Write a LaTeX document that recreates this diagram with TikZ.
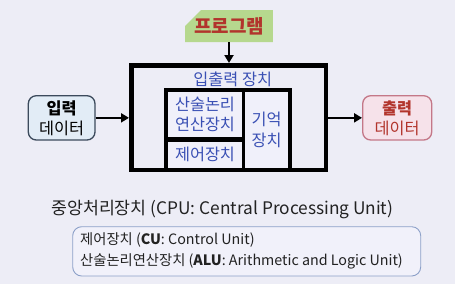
\documentclass[tikz,border=0pt]{standalone}
\usepackage{fontspec}
\setmainfont{Noto Sans CJK KR}
\usetikzlibrary{arrows.meta,positioning,shapes.misc}
\definecolor{cpubg}{RGB}{237,237,246}
\definecolor{cellfill}{RGB}{240,240,250}
\definecolor{unitblue}{RGB}{58,80,180}
\definecolor{progreen}{RGB}{182,216,142}
\definecolor{progred}{RGB}{178,52,44}
\definecolor{inpfill}{RGB}{226,236,246}
\definecolor{inpdraw}{RGB}{60,74,92}
\definecolor{outfill}{RGB}{246,226,234}
\definecolor{outdraw}{RGB}{196,120,136}
\definecolor{notedraw}{RGB}{140,160,200}
\definecolor{notefill}{RGB}{241,241,250}
\definecolor{txtgray}{RGB}{34,34,34}

\begin{document}
\begin{tikzpicture}[x=1pt,y=-1pt,
    cell/.style={fill=cellfill, inner sep=0pt, align=center, text=unitblue,
        font=\fontsize{16.3}{20.5}\selectfont},
    flow/.style={line width=2.6pt, -{Triangle[length=8pt,width=9pt]}},
    databox/.style={rounded corners=8pt, line width=1.3pt, minimum height=44.3pt,
        inner sep=0pt, align=center, font=\fontsize{16.3}{20}\selectfont}]
    % background and page size
    \fill[cpubg] (0,0) rectangle (455,284);
    \useasboundingbox (0,0) rectangle (455,284);

    % program on top
    \node[chamfered rectangle, chamfered rectangle corners=north west,
        chamfered rectangle xsep=14pt, chamfered rectangle ysep=7pt,
        fill=progreen, minimum width=86pt, minimum height=32pt, inner sep=0pt,
        text=progred, font=\fontsize{19}{20}\selectfont\bfseries] (prog) at (229,26) {프로그램};

    % outer box: CPU
    \node[draw, line width=4.5pt, minimum width=194.5pt, minimum height=104.5pt,
        inner sep=0pt] (cpu) at (228.5,117.5) {};
    \node[text=unitblue, font=\fontsize{16.3}{20}\selectfont] (io) at (232.7,79) {입출력 장치};

    % inner box with its cells
    \fill (164.3,87.7) rectangle (291.7,168);
    \node[cell, minimum width=73.4pt, minimum height=44.7pt] (alu) at (205,114.35) {산술논리\\연산장치};
    \node[cell, minimum width=73.4pt, minimum height=25.8pt] (cu) at (205,154.6) {제어장치};
    \node[cell, minimum width=43.3pt, minimum height=75.5pt] (mem) at (266.65,129.75) {기억\\장치};

    % input and output data
    \node[databox, draw=inpdraw, fill=inpfill, minimum width=66.7pt] (inp) at (61.65,117.85)
        {\textbf{입력}\\데이터};
    \node[databox, draw=outdraw, fill=outfill, text=progred, minimum width=69pt] (outp) at (397.2,117.85)
        {\textbf{출력}\\데이터};

    % arrows
    \draw[flow] (prog.south) -- (prog.south |- cpu.north);
    \draw[flow] (inp.east) -- (inp.east -| cpu.west);
    \draw[flow] (cpu.east |- outp.west) -- (outp.west);

    % CPU explanation
    \node[text=txtgray, font=\fontsize{17.3}{20}\selectfont] (cpuname) at (222.3,210)
        {중앙처리장치 (CPU: Central Processing Unit)};
    \node[draw=notedraw, fill=notefill, line width=0.9pt, rounded corners=9pt,
        minimum width=348pt, minimum height=49.3pt] (note) at (246.7,251.35) {};
    \node[anchor=west, inner sep=0pt, text=txtgray, font=\fontsize{14.3}{16}\selectfont] (cuname)
        at (80,240) {제어장치 (\textbf{CU}: Control Unit)};
    \node[anchor=west, inner sep=0pt, text=txtgray, font=\fontsize{14.3}{16}\selectfont] (aluname)
        at (80,261.7) {산술논리연산장치 (\textbf{ALU}: Arithmetic and Logic Unit)};
\end{tikzpicture}
\end{document}
